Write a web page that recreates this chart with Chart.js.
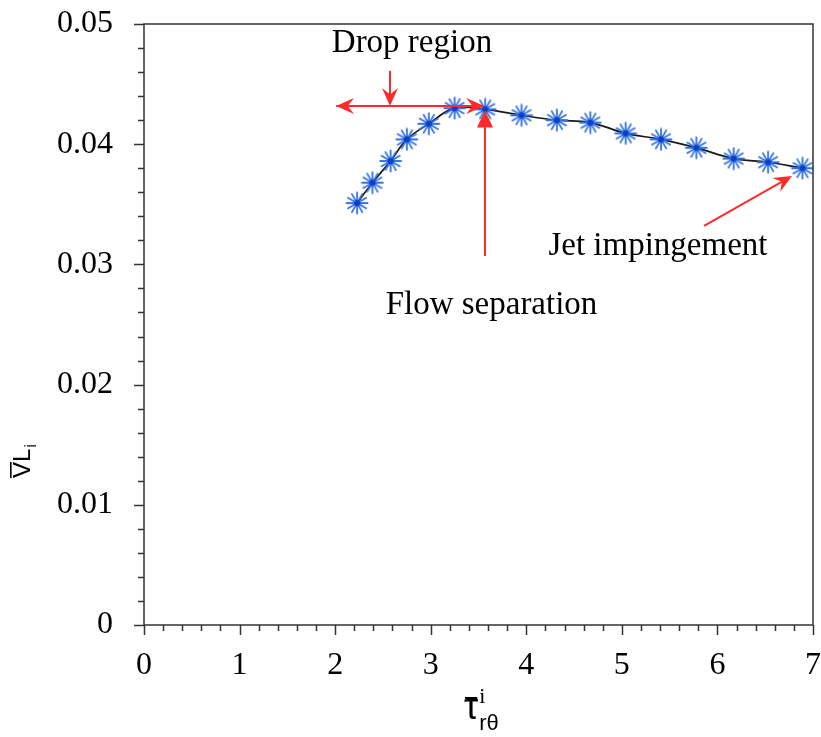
<!DOCTYPE html>
<html>
<head>
<meta charset="utf-8">
<script src="https://cdn.jsdelivr.net/npm/chart.js@4/dist/chart.umd.min.js"></script>
<style>
    html, body { margin: 0; padding: 0; background: #fff; }
    #wrap { width: 821px; height: 737px; position: relative; }
</style>
</head>
<body>
<div id="wrap"><canvas id="chart"></canvas></div>
<script>
// values
const tauValues = [2.23, 2.39, 2.58, 2.75, 2.98, 3.25, 3.57, 3.95, 4.32, 4.67, 5.04, 5.41, 5.78, 6.17, 6.53, 6.89];
const vlValues = [0.0351, 0.0368, 0.0386, 0.0404, 0.0417, 0.0430, 0.0429, 0.0424, 0.0420, 0.0418, 0.0409, 0.0404, 0.0397, 0.0388, 0.0385, 0.0380];
const xTicks = [0, 1, 2, 3, 4, 5, 6, 7];
const yTicks = [0, 0.01, 0.02, 0.03, 0.04, 0.05];

// annotations, in data units
const arrows = [
    { from: [3.55, 0.04317], to: [2.01, 0.04317], head: "barb" },
    { from: [2.01, 0.04317], to: [3.56, 0.04317], head: "barb" },
    { from: [2.574, 0.0461], to: [2.574, 0.04317], head: "barb" },
    { from: [3.568, 0.0307], to: [3.568, 0.0428], head: "tri" },
    { from: [5.86, 0.0332], to: [6.78, 0.03736], head: "barb" },
];
const notes = [
    { text: "Drop region", x: 2.804, y: 0.0477 },
    { text: "Jet impingement", x: 5.378, y: 0.0308 },
    { text: "Flow separation", x: 3.636, y: 0.0259 },
];

const SERIF = "'Liberation Serif', 'Times New Roman', serif";
const SANS = "'Liberation Sans', Arial, sans-serif";
const RED = "#ff2a2a";
const AXIS = "#333";

function starMarker() {
    const c = document.createElement("canvas");
    c.width = 24;
    c.height = 24;
    const g = c.getContext("2d");
    g.strokeStyle = "#3272e4";
    g.lineWidth = 1.8;
    g.lineCap = "round";
    for (let i = 0; i < 6; i++) {
        const a = (i * Math.PI) / 6;
        g.beginPath();
        g.moveTo(12 - 10.5 * Math.cos(a), 12 - 10.5 * Math.sin(a));
        g.lineTo(12 + 10.5 * Math.cos(a), 12 + 10.5 * Math.sin(a));
        g.stroke();
    }
    g.fillStyle = "#0d3fc4";
    g.beginPath();
    g.arc(12, 12, 3, 0, Math.PI * 2);
    g.fill();
    return c;
}

function drawArrow(ctx, x1, y1, x2, y2, head) {
    const ang = Math.atan2(y2 - y1, x2 - x1);
    const len = head === "tri" ? 17 : 18;
    const half = 8;
    ctx.strokeStyle = RED;
    ctx.fillStyle = RED;
    ctx.lineWidth = 2;
    ctx.beginPath();
    ctx.moveTo(x1, y1);
    ctx.lineTo(x2 - Math.cos(ang) * len * 0.6, y2 - Math.sin(ang) * len * 0.6);
    ctx.stroke();
    ctx.save();
    ctx.translate(x2, y2);
    ctx.rotate(ang);
    ctx.beginPath();
    ctx.moveTo(0, 0);
    ctx.lineTo(-len, -half);
    if (head === "barb") ctx.lineTo(-len * 0.65, 0);
    ctx.lineTo(-len, half);
    ctx.closePath();
    ctx.fill();
    ctx.restore();
}

const decorPlugin = {
    id: "decor",
    afterDatasetsDraw(chart) {
        const { ctx, scales: { x, y } } = chart;
        ctx.save();
        arrows.forEach((a) => {
            drawArrow(ctx,
                x.getPixelForValue(a.from[0]), y.getPixelForValue(a.from[1]),
                x.getPixelForValue(a.to[0]), y.getPixelForValue(a.to[1]), a.head);
        });
        ctx.fillStyle = "#000";
        ctx.font = `33px ${SERIF}`;
        ctx.textAlign = "center";
        ctx.textBaseline = "alphabetic";
        notes.forEach((n) => ctx.fillText(n.text, x.getPixelForValue(n.x), y.getPixelForValue(n.y)));
        ctx.restore();
    },
    afterDraw(chart) {
        const { ctx, chartArea: ca, scales: { x, y } } = chart;
        ctx.save();
        ctx.strokeStyle = AXIS;
        ctx.lineWidth = 1.5;
        ctx.strokeRect(ca.left, ca.top, ca.right - ca.left, ca.bottom - ca.top);
        // tick marks, major and minor, pointing outward
        ctx.beginPath();
        for (let i = 0; i <= 35; i++) {
            const px = Math.round(x.getPixelForValue(i * 0.2)) + 0.5;
            const l = i % 5 === 0 ? 10 : 6;
            ctx.moveTo(px, ca.bottom);
            ctx.lineTo(px, ca.bottom + l);
        }
        for (let i = 0; i <= 25; i++) {
            const py = Math.round(y.getPixelForValue(i * 0.002)) + 0.5;
            const l = i % 5 === 0 ? 10 : 6;
            ctx.moveTo(ca.left, py);
            ctx.lineTo(ca.left - l, py);
        }
        ctx.stroke();

        // y title: overline V, L, subscript i (rotated)
        ctx.fillStyle = "#000";
        ctx.save();
        ctx.translate(30, 478);
        ctx.rotate(-Math.PI / 2);
        ctx.textAlign = "left";
        ctx.textBaseline = "alphabetic";
        ctx.font = `24px ${SANS}`;
        const vw = ctx.measureText("V").width;
        ctx.fillText("V", 0, 0);
        ctx.fillRect(0, -20, vw, 1.6);
        const lw = ctx.measureText("L").width;
        ctx.fillText("L", vw, 0);
        ctx.font = `17px ${SANS}`;
        ctx.fillText("i", vw + lw + 1, 6);
        ctx.restore();

        // x title: overline tau, superscript i, subscript r theta
        ctx.save();
        ctx.textAlign = "left";
        ctx.textBaseline = "alphabetic";
        ctx.font = `36px ${SANS}`;
        const tw = ctx.measureText("\u03c4").width;
        const tx = 464;
        ctx.fillText("\u03c4", tx, 719);
        ctx.fillRect(tx + 1, 697, tw - 2, 2.2);
        ctx.font = `22px ${SERIF}`;
        ctx.fillText("i", tx + tw + 1, 703);
        ctx.font = `22px ${SANS}`;
        ctx.fillText("r\u03b8", tx + tw + 1, 730);
        ctx.restore();
        ctx.restore();
    },
};

new Chart(document.getElementById("chart"), {
    type: "line",
    data: {
        datasets: [{
            data: tauValues.map((t, i) => ({ x: t, y: vlValues[i] })),
            borderColor: "#1a1a1a",
            borderWidth: 1.7,
            tension: 0.4,
            pointStyle: starMarker(),
            pointRadius: 11,
            fill: false,
            clip: false,
        }],
    },
    options: {
        responsive: true,
        maintainAspectRatio: false,
        animation: false,
        layout: { autoPadding: false, padding: { left: 0, right: 8, top: 24, bottom: 0 } },
        plugins: { legend: { display: false }, tooltip: { enabled: false } },
        scales: {
            x: {
                type: "linear",
                min: 0,
                max: 7,
                grid: { display: false, drawTicks: true, tickLength: 21 },
                border: { display: false },
                afterBuildTicks: (s) => { s.ticks = xTicks.map((v) => ({ value: v })); },
                afterFit: (s) => {
                    s.height = 112;
                    s.paddingLeft = 0;
                    s.paddingRight = 0;
                },
                ticks: {
                    color: "#000",
                    padding: 0,
                    maxRotation: 0,
                    font: { family: SERIF, size: 32 },
                    callback: (v) => String(v),
                },
            },
            y: {
                type: "linear",
                min: 0,
                max: 0.05,
                grid: { display: false, drawTicks: true, tickLength: 31 },
                border: { display: false },
                afterBuildTicks: (s) => { s.ticks = yTicks.map((v) => ({ value: v })); },
                afterFit: (s) => {
                    s.width = 144;
                    s.paddingTop = 0;
                    s.paddingBottom = 0;
                },
                ticks: {
                    color: "#000",
                    padding: 0,
                    font: { family: SERIF, size: 32 },
                    callback: (v) => (v === 0 ? "0" : v.toFixed(2)),
                },
            },
        },
    },
    plugins: [decorPlugin],
});
</script>
</body>
</html>
